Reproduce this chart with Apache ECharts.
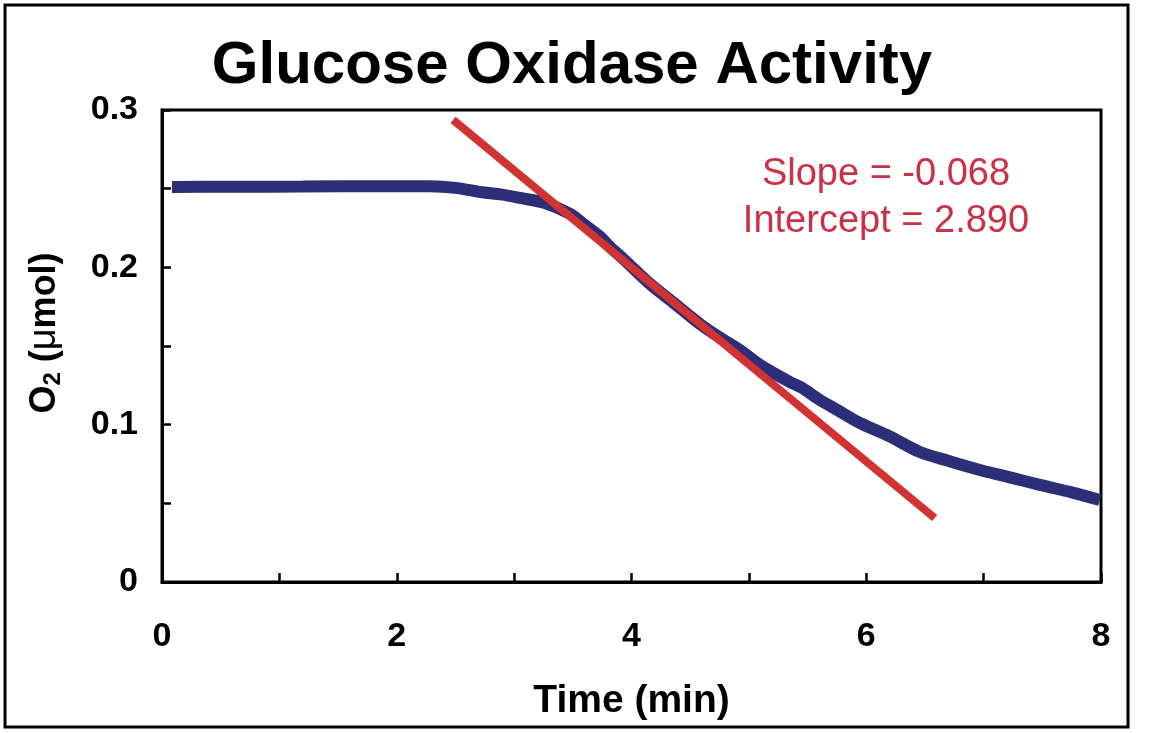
<!DOCTYPE html>
<html>
<head>
<meta charset="utf-8">
<script src="https://cdn.jsdelivr.net/npm/echarts@6/dist/echarts.min.js"></script>
<style>html,body{margin:0;padding:0;background:#fff}#c{width:1156px;height:733px}</style>
</head>
<body>
<div id="c"></div>
<script>
// Measured O2 trace (time in min, O2 in µmol)
const timeMin = [0.085, 0.6, 1.2, 1.857, 2.283, 2.5, 2.709, 2.9, 3.049, 3.262, 3.475, 3.6, 3.731, 3.816, 3.95, 4.157, 4.35, 4.583, 4.75, 4.923, 5.094, 5.349, 5.45, 5.605, 5.75, 5.945, 6.2, 6.457, 6.7, 6.968, 7.2, 7.479, 7.75, 7.99];
const o2Umol  = [0.2511, 0.2512, 0.2513, 0.2516, 0.2515, 0.2505, 0.2479, 0.2462, 0.2441, 0.2409, 0.2340, 0.2270, 0.2195, 0.2130, 0.2040, 0.1895, 0.1780, 0.1640, 0.1555, 0.1475, 0.1380, 0.1271, 0.1235, 0.1157, 0.1095, 0.1011, 0.0925, 0.0826, 0.0770, 0.0712, 0.0670, 0.0617, 0.0570, 0.0521];
// Linear fit line endpoints
const fitTime = [2.48, 6.583];
const fitO2   = [0.2937, 0.0407];
const xTicks = [0, 2, 4, 6, 8];
const yTicks = [0, 0.1, 0.2, 0.3];
const titleText = 'Glucose Oxidase Activity';
const fitLabels = ['Slope = -0.068', 'Intercept = 2.890'];

const chart = echarts.init(document.getElementById('c'));
const FONT = '"Liberation Sans", Arial, sans-serif';
chart.setOption({
  animation: false,
  backgroundColor: '#fff',
  title: {
    text: titleText, left: 567, top: 31, textAlign: 'center',
    textStyle: {fontFamily: FONT, fontWeight: 'bold', fontSize: 60, color: '#000'}
  },
  grid: {left: 162, top: 110, right: 55, bottom: 151, show: true, borderColor: '#000', borderWidth: 3, backgroundColor: 'transparent'},
  xAxis: {
    type: 'value', min: 0, max: 8, interval: 1,
    name: 'Time (min)', nameLocation: 'middle', nameGap: 100,
    nameTextStyle: {fontFamily: FONT, fontWeight: 'bold', fontSize: 39, color: '#000'},
    axisLine: {show: true, lineStyle: {color: '#000', width: 3}},
    axisTick: {show: true, inside: true, length: 9, lineStyle: {color: '#000', width: 2.5}},
    axisLabel: {margin: 38, fontFamily: FONT, fontWeight: 'bold', fontSize: 34, color: '#000',
      formatter: v => xTicks.includes(v) ? String(v) : ''},
    splitLine: {show: false}
  },
  yAxis: {
    type: 'value', min: 0, max: 0.3, interval: 0.05,
    axisLine: {show: true, lineStyle: {color: '#000', width: 3}},
    axisTick: {show: true, inside: true, length: 9, lineStyle: {color: '#000', width: 2.5}},
    axisLabel: {margin: 24, fontFamily: FONT, fontWeight: 'bold', fontSize: 34, color: '#000',
      formatter: v => {
        const t = yTicks.find(y => Math.abs(y - v) < 1e-9);
        return t === undefined ? '' : (t === 0 ? '0' : t.toFixed(1));
      }},
    splitLine: {show: false}
  },
  series: [
    {
      type: 'line', data: timeMin.map((t, i) => [t, o2Umol[i]]), smooth: 0.3, showSymbol: false,
      lineStyle: {color: '#2d2e78', width: 12, cap: 'butt'}, z: 2, clip: false
    },
    {
      type: 'line', data: fitTime.map((t, i) => [t, fitO2[i]]), showSymbol: false,
      lineStyle: {color: '#d13232', width: 8, cap: 'butt'}, z: 3
    }
  ],
  graphic: [
    {type: 'rect', shape: {x: 5, y: 5, width: 1123, height: 722}, style: {fill: 'none', stroke: '#000', lineWidth: 3}, z: -1},
    {type: 'text', x: 45, y: 333, rotation: Math.PI / 2, style: {
      text: '{n|O}{s|2}{n| (}{m|μ}{n|mol)}', align: 'center', verticalAlign: 'middle',
      rich: {
        n: {fontFamily: FONT, fontWeight: 'bold', fontSize: 36, fill: '#000'},
        s: {fontFamily: FONT, fontWeight: 'bold', fontSize: 24, fill: '#000', padding: [16, 0, 0, 0]},
        m: {fontFamily: FONT, fontWeight: 'normal', fontSize: 38, fill: '#000'}
      }}},
    {type: 'text', x: 886, y: 175, style: {text: fitLabels[0], align: 'center', verticalAlign: 'middle', font: '38px "Liberation Sans", Arial, sans-serif', fill: '#cc3046'}},
    {type: 'text', x: 886, y: 222, style: {text: fitLabels[1], align: 'center', verticalAlign: 'middle', font: '38px "Liberation Sans", Arial, sans-serif', fill: '#cc3046'}}
  ]
});
</script>
</body>
</html>
